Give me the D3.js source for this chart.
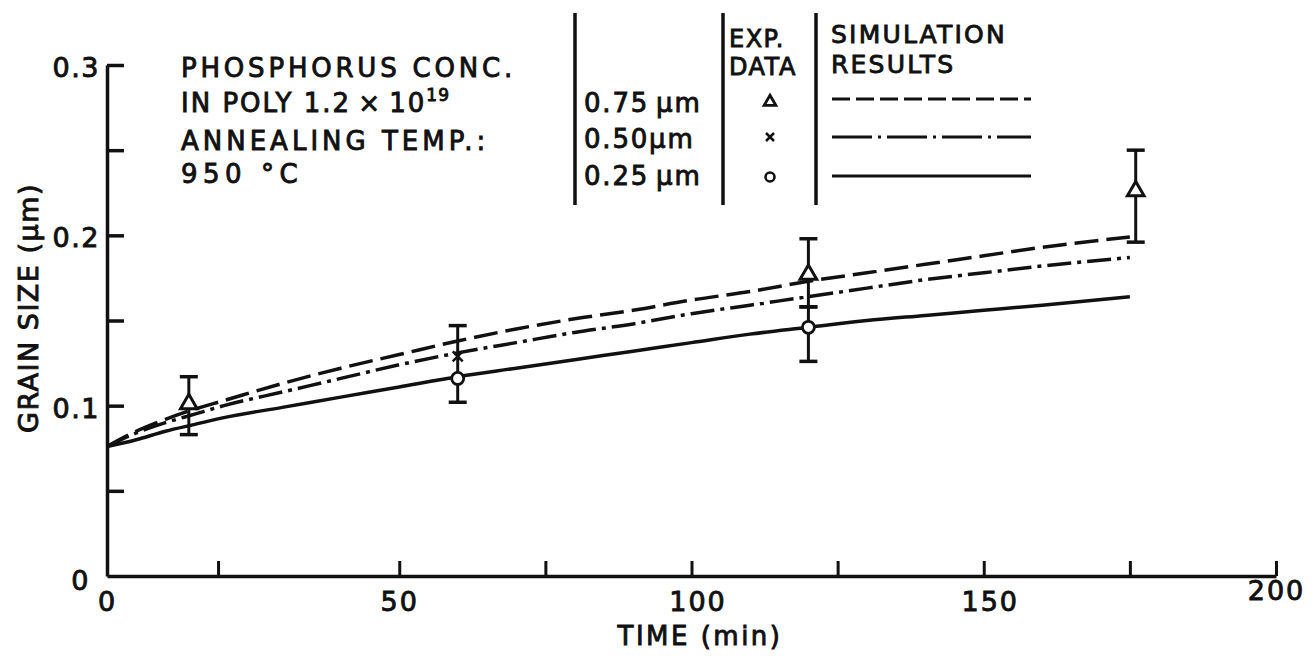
<!DOCTYPE html>
<html><head><meta charset="utf-8">
<script src="https://cdn.jsdelivr.net/npm/d3@7"></script>
<style>
html,body{margin:0;padding:0;background:#fff;}
text{font-family:"DejaVu Sans",sans-serif;fill:#111;}
</style></head>
<body><div id="chart"></div>
<script>
// ---------- data ----------
const simTime = [0,5,10,15,20,30,40,50,60,70,80,90,100,110,120,130,140,150,160,175];
const sim075 = [0.076,0.085,0.092,0.098,0.103,0.113,0.122,0.130,0.138,0.145,0.151,0.156,0.162,0.167,0.173,0.178,0.183,0.188,0.193,0.199];
const sim050 = [0.076,0.084,0.090,0.095,0.100,0.108,0.116,0.124,0.131,0.137,0.143,0.148,0.154,0.159,0.164,0.169,0.174,0.178,0.182,0.187];
const sim025 = [0.076,0.080,0.085,0.089,0.093,0.099,0.105,0.111,0.117,0.122,0.127,0.132,0.137,0.142,0.146,0.150,0.153,0.156,0.159,0.164];

const expTime075 = [14,120,176];
const exp075 = [0.101,0.177,0.226];
const expTime050 = [60];
const exp050 = [0.129];
const expTime025 = [60,120];
const exp025 = [0.116,0.146];

const errTime = [14,60,120,120,176];
const errLow  = [0.083,0.102,0.126,0.158,0.196];
const errHigh = [0.117,0.147,0.158,0.198,0.250];

const xTickMarks = [19,50,75,100,125,150,175,200];
const xTickLabels = [0,50,100,150,200];
const yTickMarks = [0.05,0.1,0.15,0.2,0.25,0.3];
const yTickLabels = [0,0.1,0.2,0.3];

const legendSizes = ["0.75\u2009\u00b5m","0.50\u00b5m","0.25\u2009\u00b5m"];

// ---------- layout ----------
const W=1315,H=658;
const svg=d3.select("#chart").append("svg").attr("width",W).attr("height",H);
svg.append("rect").attr("width",W).attr("height",H).attr("fill","#fff");
const x=d3.scaleLinear().domain([0,200]).range([107,1276]);
const y=d3.scaleLinear().domain([0,0.3]).range([576,65]);
const ink="#111";
const SW=0.9;

// axes
const gy=svg.append("g").attr("transform","translate(107,0)")
  .call(d3.axisRight(y).tickValues(yTickMarks).tickSize(17).tickSizeOuter(0).tickFormat(""));
gy.select(".domain").attr("stroke",ink).attr("stroke-width",3.5);
gy.selectAll(".tick line").attr("stroke",ink).attr("stroke-width",3.5);

const gyl=svg.append("g").attr("transform","translate(107,0)")
  .call(d3.axisLeft(y).tickValues(yTickLabels).tickSize(0).tickPadding(7).tickFormat(d=>d===0?"0":d3.format(".1f")(d)));
gyl.select(".domain").remove();
gyl.selectAll("text").attr("font-size",27).attr("fill",ink).attr("stroke",ink).attr("stroke-width",SW)
  .attr("letter-spacing",1.5).attr("font-family","DejaVu Sans").attr("dy","0.42em");
gyl.selectAll(".tick").filter(d=>d===0).select("text").attr("x",-17).attr("dy","0.5em");

const gx=svg.append("g").attr("transform","translate(0,576)")
  .call(d3.axisTop(x).tickValues(xTickMarks).tickSize(15).tickSizeOuter(0).tickFormat(""));
gx.select(".domain").attr("stroke",ink).attr("stroke-width",3.5);
gx.selectAll(".tick line").attr("stroke",ink).attr("stroke-width",3);

const gxl=svg.append("g").attr("transform","translate(0,576)")
  .call(d3.axisBottom(x).tickValues(xTickLabels).tickSize(0).tickPadding(16));
gxl.select(".domain").remove();
gxl.selectAll("text").attr("font-size",27).attr("fill",ink).attr("stroke",ink).attr("stroke-width",SW)
  .attr("letter-spacing",2).attr("font-family","DejaVu Sans");
gxl.selectAll(".tick").filter(d=>d===200).select("text").attr("dy","0.3em");
gxl.selectAll(".tick").filter(d=>d===100||d===150).select("text").attr("x",6);

// axis titles
svg.append("text").attr("x",700).attr("y",645).attr("text-anchor","middle")
  .attr("font-size",26).attr("letter-spacing",2.5).attr("stroke",ink).attr("stroke-width",SW)
  .text("TIME (min)");
svg.append("text").attr("transform","translate(38,308) rotate(-90)").attr("text-anchor","middle")
  .attr("font-size",27).attr("letter-spacing",1.5).attr("stroke",ink).attr("stroke-width",SW)
  .text("GRAIN SIZE (\u00b5m)");

// curves
const line=d3.line().x(d=>x(d[0])).y(d=>y(d[1])).curve(d3.curveMonotoneX);
const series=[
  {vals:sim075,dash:"24,8"},
  {vals:sim050,dash:"24,6,4,6"},
  {vals:sim025,dash:null}
];
series.forEach(s=>{
  svg.append("path").datum(simTime.map((t,i)=>[t,s.vals[i]]))
    .attr("d",line).attr("fill","none").attr("stroke",ink).attr("stroke-width",3.5)
    .attr("stroke-dasharray",s.dash);
});

// error bars
const eb=svg.append("g");
errTime.forEach((t,i)=>{
  const cx=x(t);
  eb.append("line").attr("x1",cx).attr("x2",cx).attr("y1",y(errLow[i])).attr("y2",y(errHigh[i]))
    .attr("stroke",ink).attr("stroke-width",3);
  [errLow[i],errHigh[i]].forEach(v=>{
    eb.append("line").attr("x1",cx-9).attr("x2",cx+9).attr("y1",y(v)).attr("y2",y(v))
      .attr("stroke",ink).attr("stroke-width",3.5);
  });
});

// markers
const tri=d3.symbol().type(d3.symbolTriangle).size(120);
expTime075.forEach((t,i)=>{
  svg.append("path").attr("d",tri()).attr("transform",`translate(${x(t)},${y(exp075[i])})`)
    .attr("fill","#fff").attr("stroke",ink).attr("stroke-width",3);
});
expTime050.forEach((t,i)=>{
  const cx=x(t),cy=y(exp050[i]),r=5;
  svg.append("path").attr("d",`M${cx-r},${cy-r}L${cx+r},${cy+r}M${cx+r},${cy-r}L${cx-r},${cy+r}`)
    .attr("stroke",ink).attr("stroke-width",2.5);
});
expTime025.forEach((t,i)=>{
  svg.append("circle").attr("cx",x(t)).attr("cy",y(exp025[i])).attr("r",6)
    .attr("fill","#fff").attr("stroke",ink).attr("stroke-width",2.8);
});

// ---------- legend / annotation ----------
const txt=(xx,yy,s,ls,fs)=>svg.append("text").attr("x",xx).attr("y",yy).attr("font-size",fs||26)
  .attr("letter-spacing",ls).attr("stroke",ink).attr("stroke-width",SW).text(s);
txt(181,77,"PHOSPHORUS CONC.",3.8);
const t2=txt(181,112,"IN POLY 1.2\u2009\u00d7\u200910",2);
t2.append("tspan").attr("dy",-11).attr("font-size",17).attr("letter-spacing",1).text("19");
txt(181,150,"ANNEALING TEMP.:",4);
txt(181,183,"950 \u00b0C",5.5);

[575,723,816].forEach(bx=>{
  svg.append("line").attr("x1",bx).attr("x2",bx).attr("y1",13).attr("y2",205)
    .attr("stroke",ink).attr("stroke-width",3.5);
});
txt(729,47,"EXP.",1.5,24);
txt(729,75,"DATA",1.5,24);
txt(831,43,"SIMULATION",2.2,25);
txt(831,73,"RESULTS",2.2,25);
const ly=[112,148,185];
legendSizes.forEach((s,i)=>txt(584,ly[i],s,1.8));
// legend markers
svg.append("path").attr("d",d3.symbol().type(d3.symbolTriangle).size(60)())
  .attr("transform","translate(770,102)").attr("fill","#fff").attr("stroke",ink).attr("stroke-width",2.8);
svg.append("path").attr("d","M766,133L774,141M774,133L766,141").attr("stroke",ink).attr("stroke-width",2.5);
svg.append("circle").attr("cx",770).attr("cy",177).attr("r",4.5).attr("fill","#fff").attr("stroke",ink).attr("stroke-width",2.6);
// legend lines
const lineY=[99,137,176];
series.forEach((s,i)=>{
  svg.append("line").attr("x1",832).attr("x2",1031).attr("y1",lineY[i]).attr("y2",lineY[i])
    .attr("stroke",ink).attr("stroke-width",3.2).attr("stroke-dasharray",s.dash?(i===0?"18,6":"40,6,3,6"):null);
});
</script></body></html>
